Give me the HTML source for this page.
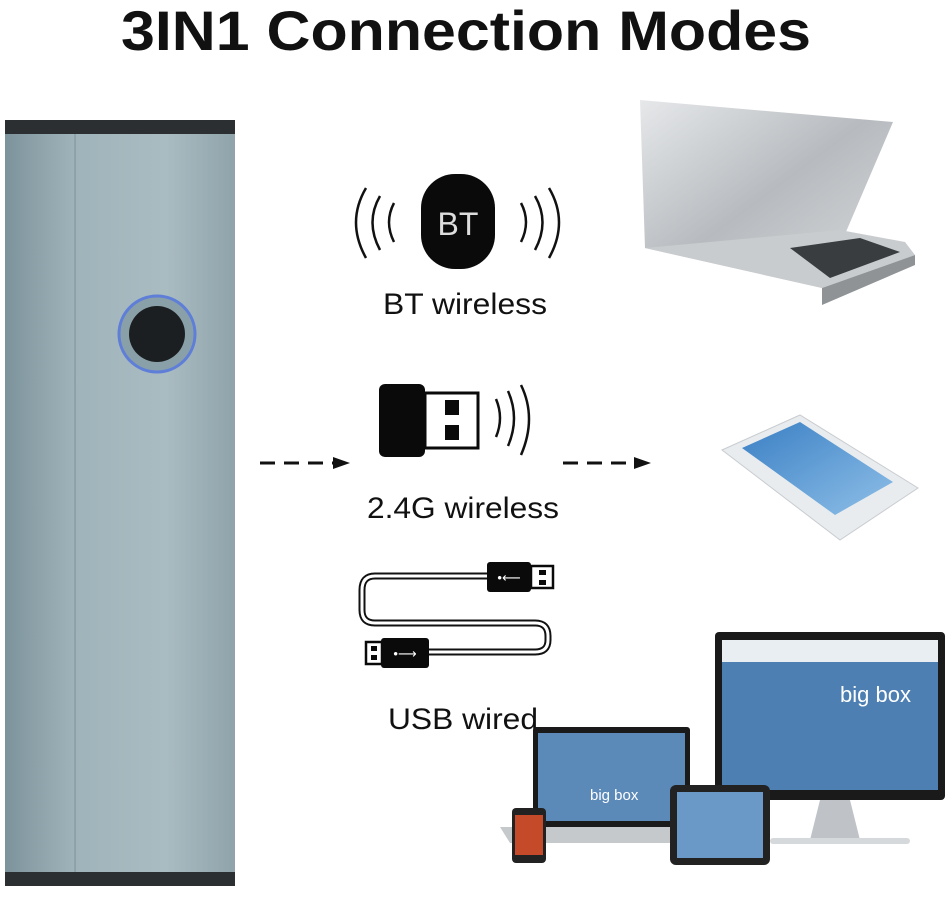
<!DOCTYPE html>
<html><head><meta charset="utf-8"><style>
html,body{margin:0;padding:0;background:#fff;}
body{width:950px;height:892px;overflow:hidden;position:relative;font-family:"Liberation Sans","DejaVu Sans",sans-serif;}
</style></head><body>
<svg width="950" height="892" viewBox="0 0 950 892" xmlns="http://www.w3.org/2000/svg">
<defs>
<linearGradient id="sc" x1="0" x2="1" y1="0" y2="0">
<stop offset="0" stop-color="#7d939b"/><stop offset="0.3" stop-color="#9fb3ba"/><stop offset="0.7" stop-color="#a9bcc2"/><stop offset="1" stop-color="#8fa3aa"/>
</linearGradient>
<linearGradient id="lap" x1="0" x2="1" y1="0" y2="1">
<stop offset="0" stop-color="#e6e8ea"/><stop offset="0.5" stop-color="#b7bbbf"/><stop offset="1" stop-color="#d8dadc"/>
</linearGradient>
<linearGradient id="scr" x1="0" x2="1" y1="0" y2="1">
<stop offset="0" stop-color="#3a7fc4"/><stop offset="1" stop-color="#8fc0e8"/>
</linearGradient>
</defs>
<text x="466" y="50" text-anchor="middle" font-size="56" font-weight="bold" font-family="Liberation Sans, sans-serif" fill="#111" textLength="690" lengthAdjust="spacingAndGlyphs">3IN1 Connection Modes</text>

<!-- scanner -->
<rect x="5" y="120" width="230" height="766" fill="url(#sc)"/>
<rect x="5" y="120" width="230" height="14" fill="#2b2f31"/>
<rect x="5" y="872" width="230" height="14" fill="#2b2f31"/>
<line x1="75" y1="134" x2="75" y2="872" stroke="#8ea2a9" stroke-width="2"/>
<circle cx="157" cy="334" r="38" fill="#8aa0a8" stroke="#5e7ed8" stroke-width="3"/>
<circle cx="157" cy="334" r="28" fill="#1c1f22"/>

<!-- BT -->
<g fill="none" stroke="#111" stroke-width="2.5">
<path d="M366 188 Q346 222 366 258"/><path d="M380 196 Q365 222 380 250"/><path d="M394 203 Q384 222 394 242"/>
<path d="M521 203 Q531 222 521 242"/><path d="M535 196 Q550 222 535 250"/><path d="M549 188 Q569 222 549 258"/>
</g>
<rect x="421" y="174" width="74" height="95" rx="34" fill="#0a0a0a"/>
<text x="458" y="235" text-anchor="middle" font-size="32" fill="#ddd">BT</text>
<text x="465" y="314" text-anchor="middle" font-size="30" fill="#111" textLength="164" lengthAdjust="spacingAndGlyphs">BT wireless</text>

<!-- dongle -->
<rect x="379" y="384" width="46" height="73" rx="6" fill="#0a0a0a"/>
<rect x="425" y="393" width="53" height="55" fill="#fff" stroke="#0a0a0a" stroke-width="3"/>
<rect x="445" y="400" width="14" height="15" fill="#0a0a0a"/>
<rect x="445" y="425" width="14" height="15" fill="#0a0a0a"/>
<g fill="none" stroke="#111" stroke-width="2.5">
<path d="M496 399 Q504 418 496 437"/><path d="M508 391 Q520 418 508 446"/><path d="M521 385 Q537 418 521 455"/>
</g>
<text x="463" y="518" text-anchor="middle" font-size="30" fill="#111" textLength="192" lengthAdjust="spacingAndGlyphs">2.4G wireless</text>

<!-- arrows -->
<g stroke="#111" stroke-width="3" stroke-dasharray="15,9"><line x1="260" y1="463" x2="335" y2="463"/><line x1="563" y1="463" x2="635" y2="463"/></g>
<polygon points="333,457 350,463 333,469" fill="#111"/>
<polygon points="634,457 651,463 634,469" fill="#111"/>

<!-- usb cable -->
<path d="M490 576 H375 Q362 576 362 590 V610 Q362 623 375 623 H535 Q548 623 548 636 V640 Q548 652 535 652 H428" fill="none" stroke="#111" stroke-width="7"/>
<path d="M490 576 H375 Q362 576 362 590 V610 Q362 623 375 623 H535 Q548 623 548 636 V640 Q548 652 535 652 H428" fill="none" stroke="#fff" stroke-width="3"/>
<rect x="487" y="562" width="44" height="30" rx="3" fill="#0a0a0a"/>
<rect x="531" y="566" width="22" height="22" fill="#fff" stroke="#0a0a0a" stroke-width="2.5"/>
<rect x="539" y="570" width="7" height="5" fill="#0a0a0a"/><rect x="539" y="580" width="7" height="5" fill="#0a0a0a"/>
<text x="509" y="582" text-anchor="middle" font-size="13" fill="#fff">•⟵</text>
<rect x="381" y="638" width="48" height="30" rx="3" fill="#0a0a0a"/>
<rect x="366" y="642" width="16" height="22" fill="#fff" stroke="#0a0a0a" stroke-width="2.5"/>
<rect x="371" y="646" width="6" height="5" fill="#0a0a0a"/><rect x="371" y="655" width="6" height="5" fill="#0a0a0a"/>
<text x="405" y="658" text-anchor="middle" font-size="13" fill="#fff">•⟶</text>
<text x="463" y="729" text-anchor="middle" font-size="30" fill="#111" textLength="150" lengthAdjust="spacingAndGlyphs">USB wired</text>

<!-- laptop -->
<polygon points="640,100 893,122 822,288 645,248" fill="url(#lap)"/>
<polygon points="645,248 822,288 915,255 905,242 840,230" fill="#c9ccce"/>
<polygon points="790,248 830,278 900,252 860,238" fill="#3a3d40"/>
<polygon points="822,288 915,255 915,265 822,305" fill="#8f9396"/>

<!-- phone -->
<polygon points="722,450 800,415 918,488 840,540" fill="#e9ecee" stroke="#c8ccd0"/>
<polygon points="742,448 800,422 893,482 835,515" fill="url(#scr)"/>

<!-- monitor -->
<rect x="715" y="632" width="230" height="168" rx="4" fill="#1a1a1a"/>
<rect x="722" y="640" width="216" height="150" fill="#4d7fb3"/>
<rect x="722" y="640" width="216" height="22" fill="#e9eef3"/>
<text x="840" y="702" font-size="22" fill="#fff">big box</text>
<polygon points="820,800 850,800 860,840 810,840" fill="#bfc3c7"/>
<rect x="770" y="838" width="140" height="6" rx="3" fill="#d6d9dc"/>
<!-- laptop small -->
<rect x="533" y="727" width="157" height="100" rx="3" fill="#1a1a1a"/>
<rect x="538" y="733" width="147" height="88" fill="#5b89b8"/>
<text x="590" y="800" font-size="15" fill="#fff">big box</text>
<polygon points="500,827 720,827 710,843 510,843" fill="#c6c9cc"/>
<!-- tablet -->
<rect x="670" y="785" width="100" height="80" rx="6" fill="#222"/>
<rect x="677" y="792" width="86" height="66" fill="#6a99c8"/>
<!-- phone small -->
<rect x="512" y="808" width="34" height="55" rx="4" fill="#222"/>
<rect x="515" y="815" width="28" height="40" fill="#c44a2a"/>
</svg>
</body></html>
